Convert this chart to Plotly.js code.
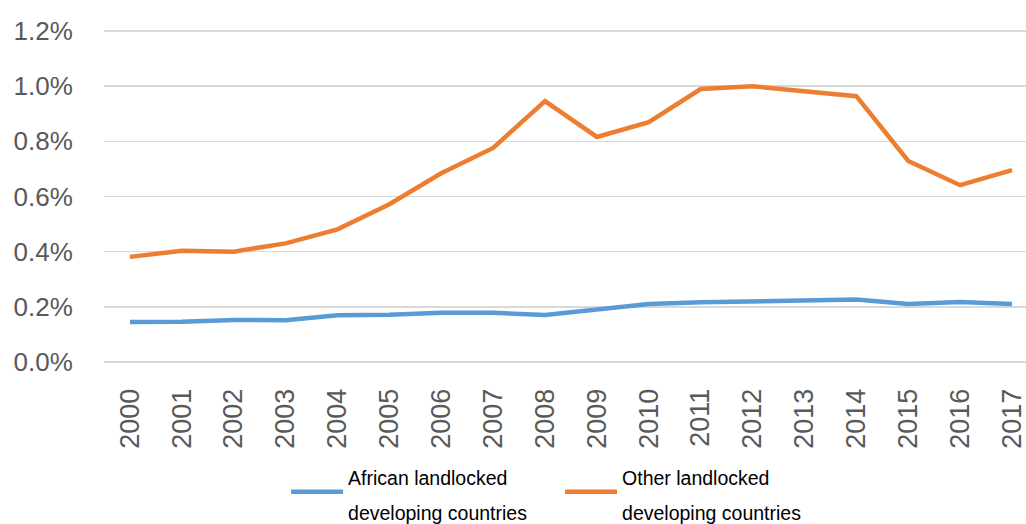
<!DOCTYPE html>
<html>
<head>
<meta charset="utf-8">
<script src="https://cdn.plot.ly/plotly-3.0.1.min.js"></script>
<style>
  html, body { margin: 0; padding: 0; background: #ffffff; overflow: hidden; }
  #chart { width: 1026px; height: 524px; }
</style>
</head>
<body>
<div id="chart"></div>
<script>
// Years on the horizontal axis
const years = ['2000','2001','2002','2003','2004','2005','2006','2007','2008',
               '2009','2010','2011','2012','2013','2014','2015','2016','2017'];

// Share (%) for each group of countries
const africanLLDC = [0.145, 0.146, 0.152, 0.151, 0.169, 0.171, 0.178, 0.178, 0.170,
                     0.191, 0.210, 0.216, 0.218, 0.224, 0.226, 0.210, 0.217, 0.210];
const otherLLDC   = [0.381, 0.403, 0.400, 0.430, 0.481, 0.572, 0.684, 0.776, 0.946,
                     0.816, 0.870, 0.990, 1.000, 0.982, 0.964, 0.729, 0.641, 0.696];

// Legend labels; the outer legend font sets the line spacing, the span sets glyph size
const seriesNames = ['African landlocked<br>developing countries',
                     'Other landlocked<br>developing countries'];
const legendLabel = s => s.split('<br>')
  .map(t => '<span style="font-size:19.5px">' + t + '</span>').join('<br>');

const traces = [
  {
    x: years, y: africanLLDC, name: legendLabel(seriesNames[0]),
    type: 'scatter', mode: 'lines',
    line: { color: '#5B9BD5', width: 4.5 },
    hoverinfo: 'skip'
  },
  {
    x: years, y: otherLLDC, name: legendLabel(seriesNames[1]),
    type: 'scatter', mode: 'lines',
    line: { color: '#ED7D31', width: 4.5 },
    hoverinfo: 'skip'
  }
];

const layout = {
  width: 1026,
  height: 524,
  margin: { l: 104, r: 0, t: 30, b: 161 },
  paper_bgcolor: '#ffffff',
  plot_bgcolor: '#ffffff',
  font: { family: '"Liberation Sans", Arial, sans-serif', color: '#595959' },
  xaxis: {
    type: 'category',
    range: [-0.5, 17.27],
    showgrid: false,
    zeroline: false,
    showline: false,
    tickangle: -90,
    ticks: 'outside',
    ticklen: 14,
    tickcolor: 'rgba(0,0,0,0)',
    tickfont: { size: 27, color: '#595959' },
    fixedrange: true
  },
  yaxis: {
    range: [-0.004, 1.204],
    dtick: 0.2,
    tick0: 0,
    tickformat: '.1f',
    ticksuffix: '%',
    showgrid: true,
    gridcolor: '#d9d9d9',
    gridwidth: 1.5,
    zeroline: false,
    showline: false,
    ticks: 'outside',
    ticklen: 25,
    tickcolor: 'rgba(0,0,0,0)',
    tickfont: { size: 26, color: '#595959' },
    fixedrange: true
  },
  showlegend: true,
  legend: {
    orientation: 'h',
    xref: 'container',
    yref: 'container',
    x: 0.2788,
    xanchor: 'left',
    y: 0.061,
    yanchor: 'middle',
    valign: 'middle',
    itemwidth: 52,
    entrywidth: 207,
    font: { size: 27, color: '#000000', family: '"Liberation Sans", Arial, sans-serif' },
    bgcolor: 'rgba(0,0,0,0)'
  }
};

Plotly.newPlot('chart', traces, layout, { displayModeBar: false, staticPlot: true });
</script>
</body>
</html>
